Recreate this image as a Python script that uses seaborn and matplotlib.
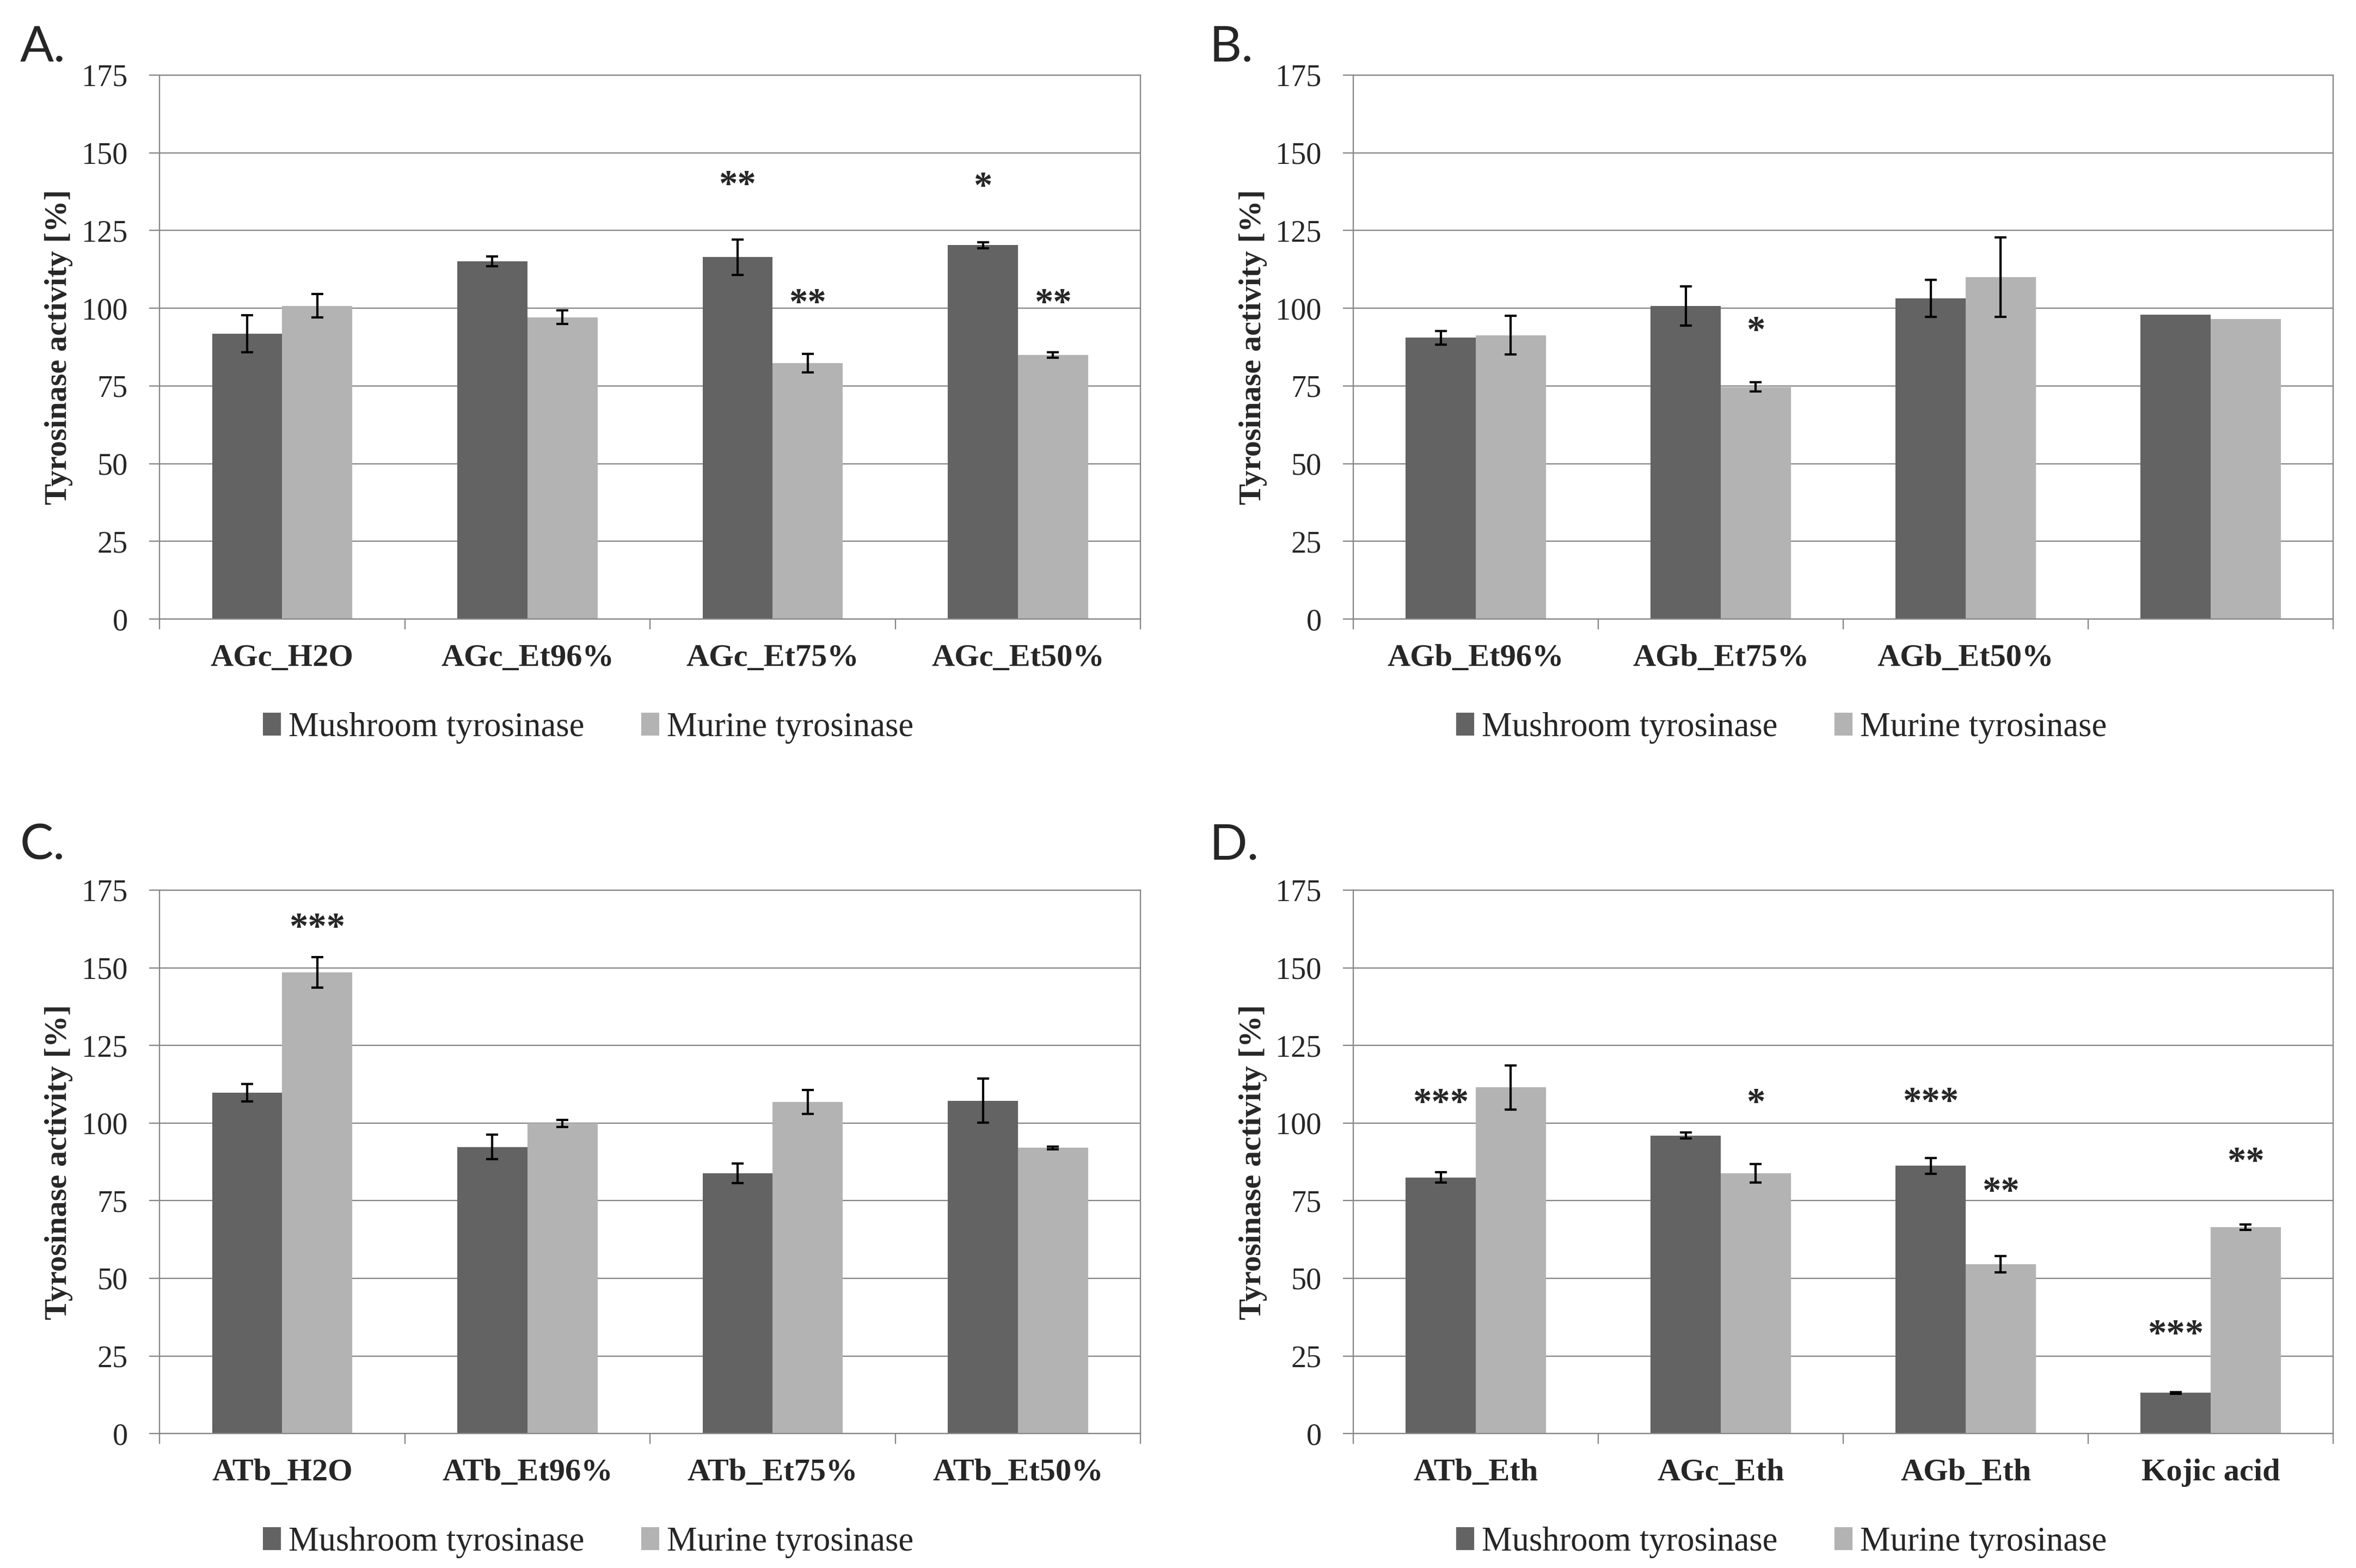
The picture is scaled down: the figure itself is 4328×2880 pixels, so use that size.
import numpy as np
import pandas as pd
import matplotlib
matplotlib.use("Agg")
import matplotlib.pyplot as plt
import seaborn as sns

# values
enzymes = ["Mushroom tyrosinase", "Murine tyrosinase"]
colors = {"Mushroom tyrosinase": "#636363", "Murine tyrosinase": "#b3b3b3"}

cats_a = ["AGc_H2O", "AGc_Et96%", "AGc_Et75%", "AGc_Et50%"]
mush_a = [91.8, 115.1, 116.4, 120.3]
mush_a_err = [5.9, 1.6, 5.7, 1.0]
mur_a = [100.8, 97.1, 82.3, 85.0]
mur_a_err = [3.8, 2.2, 3.0, 0.9]
stars_a = [(2, 0, "**", 140.5), (2, 1, "**", 102.6), (3, 0, "*", 140.0), (3, 1, "**", 102.6)]

cats_b = ["AGb_Et96%", "AGb_Et75%", "AGb_Et50%", " "]
mush_b = [90.5, 100.8, 103.2, 97.9]
mush_b_err = [2.2, 6.3, 6.0, np.nan]
mur_b = [91.3, 74.7, 110.0, 96.6]
mur_b_err = [6.2, 1.5, 12.8, np.nan]
stars_b = [(1, 1, "*", 93.7)]

cats_c = ["ATb_H2O", "ATb_Et96%", "ATb_Et75%", "ATb_Et50%"]
mush_c = [109.7, 92.3, 83.8, 107.2]
mush_c_err = [2.8, 3.9, 3.2, 7.1]
mur_c = [148.6, 99.9, 106.8, 92.0]
mur_c_err = [4.9, 1.2, 3.8, 0.5]
stars_c = [(0, 1, "***", 163.9)]

cats_d = ["ATb_Eth", "AGc_Eth", "AGb_Eth", "Kojic acid"]
mush_d = [82.5, 96.0, 86.2, 13.1]
mush_d_err = [1.7, 1.0, 2.6, 0.3]
mur_d = [111.5, 83.8, 54.5, 66.5]
mur_d_err = [7.1, 3.0, 2.6, 0.9]
stars_d = [(0, 0, "***", 107.5), (1, 1, "*", 107.5), (2, 0, "***", 107.8),
           (2, 1, "**", 78.8), (3, 0, "***", 32.9), (3, 1, "**", 88.5)]

yticks = [0, 25, 50, 75, 100, 125, 150, 175]

sns.set_style("white")
plt.rcParams['font.family'] = ['Liberation Serif', 'DejaVu Serif']

GRAY = "#868686"

fig = plt.figure(figsize=(4328 / 300, 2880 / 300), dpi=300)

panels = [
    ("A.", [0.0677, 0.6052, 0.4164, 0.3469], cats_a, mush_a, mush_a_err, mur_a, mur_a_err, stars_a),
    ("B.", [0.5744, 0.6052, 0.4159, 0.3469], cats_b, mush_b, mush_b_err, mur_b, mur_b_err, stars_b),
    ("C.", [0.0677, 0.0857, 0.4164, 0.3466], cats_c, mush_c, mush_c_err, mur_c, mur_c_err, stars_c),
    ("D.", [0.5744, 0.0857, 0.4159, 0.3466], cats_d, mush_d, mush_d_err, mur_d, mur_d_err, stars_d),
]

for letter, pos, cats, mush, mush_err, mur, mur_err, stars in panels:
    ax = fig.add_axes(pos)
    df = pd.DataFrame({
        "sample": cats * 2,
        "enzyme": [enzymes[0]] * len(cats) + [enzymes[1]] * len(cats),
        "activity": mush + mur,
    })
    errs = [mush_err, mur_err]

    sns.barplot(data=df, x="sample", y="activity", hue="enzyme", order=cats,
                hue_order=enzymes, palette=colors, saturation=1, width=2 / 3.5,
                errorbar=None, linewidth=0, ax=ax)
    bars = list(ax.containers)

    # error bars and significance stars on top of the bars
    for i, cont in enumerate(bars):
        for j, bar in enumerate(cont):
            e = errs[i][j]
            if np.isnan(e):
                continue
            xc = bar.get_x() + bar.get_width() / 2
            ax.errorbar(xc, bar.get_height(), yerr=e, fmt="none", ecolor="black",
                        elinewidth=1.0, capsize=2.6, capthick=1.0, zorder=5)
    for j, i, txt, yv in stars:
        bar = bars[i][j]
        xc = bar.get_x() + bar.get_width() / 2
        ax.text(xc, yv - 1.5, txt, ha="center", va="center", fontsize=16.5,
                fontweight="bold", zorder=6)

    ax.set_ylim(0, 175)
    ax.set_yticks(yticks)
    ax.set_xlim(-0.5, len(cats) - 0.5)
    ax.set_axisbelow(True)
    ax.yaxis.grid(True, color=GRAY, lw=0.55)
    ax.xaxis.grid(False)
    for s in ax.spines.values():
        s.set_visible(True)
        s.set_color(GRAY)
        s.set_linewidth(0.55)

    ax.tick_params(axis="y", which="major", direction="out", length=4.5, width=0.55,
                   color=GRAY, labelsize=13.5, pad=9.5, left=True)
    ax.set_xticks(np.arange(-0.5, len(cats), 1), minor=True)
    ax.tick_params(axis="x", which="minor", direction="out", length=4.5, width=0.55,
                   color=GRAY, bottom=True)
    ax.tick_params(axis="x", which="major", length=0, pad=11, labelsize=14)
    for t in ax.get_xticklabels():
        t.set_fontweight("bold")

    ax.set_xlabel("")
    ax.set_ylabel("Tyrosinase activity [%]", fontsize=14, fontweight="bold")
    ax.yaxis.set_label_coords(-0.088, 0.5)

    leg = ax.get_legend()
    handles = leg.legend_handles
    labels = [t.get_text() for t in leg.get_texts()]
    leg.remove()
    ax.legend(handles, labels, loc="center", bbox_to_anchor=(0.437, -0.2), ncol=2,
              frameon=False, fontsize=15, handlelength=0.53, handleheight=0.65,
              handletextpad=0.22, columnspacing=1.67, borderaxespad=0)

    # panel letter in the top left corner
    lx = pos[0] - 0.0592 if letter in ("A.", "C.") else pos[0] - 0.061
    ly = 0.961 if letter in ("A.", "B.") else 1 - 1578 / 2880
    fig.text(lx, ly, letter, fontsize=22, family=["Lato", "DejaVu Sans"],
             ha="left", va="baseline")

fig.savefig("out.png", dpi=300)
